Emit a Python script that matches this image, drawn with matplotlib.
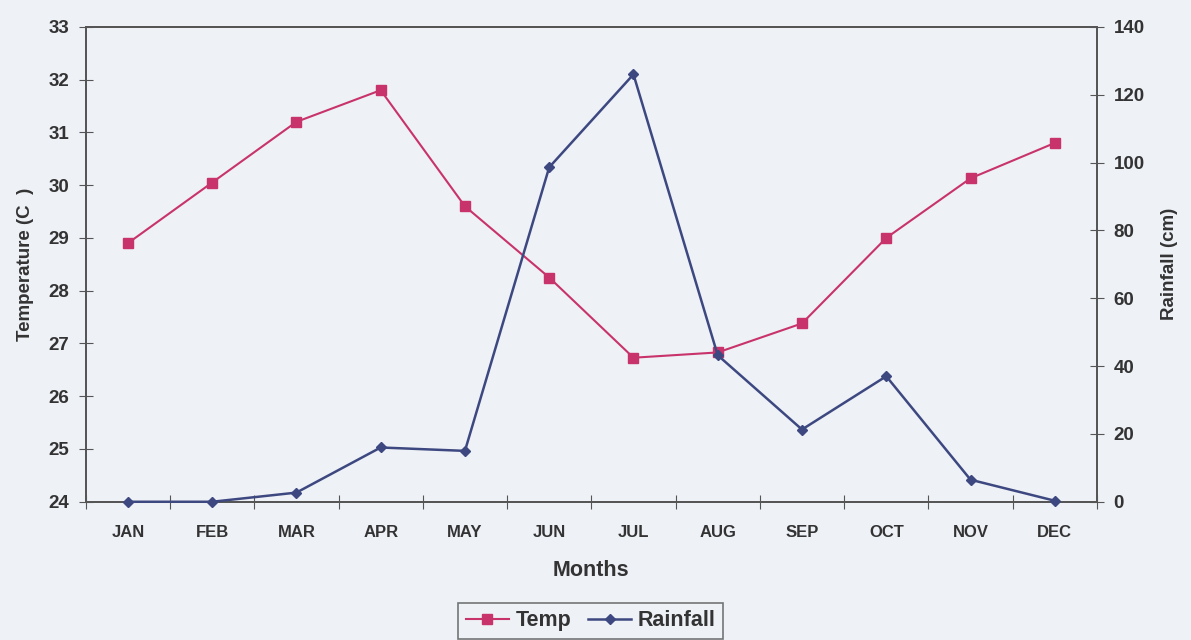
import numpy as np
import matplotlib.pyplot as plt

# Monthly mean temperature and rainfall
months = ['JAN', 'FEB', 'MAR', 'APR', 'MAY', 'JUN',
          'JUL', 'AUG', 'SEP', 'OCT', 'NOV', 'DEC']
temp = [28.9, 30.05, 31.2, 31.8, 29.6, 28.25,
        26.73, 26.83, 27.38, 29.0, 30.13, 30.8]
rainfall = [0, 0, 2.7, 16, 15, 98.6,
            126, 43.2, 21.3, 37, 6.5, 0.3]

bg = '#eef1f6'
ink = '#333333'
temp_col = '#c8336b'
rain_col = '#3d4880'

plt.rcParams['font.family'] = ['Liberation Sans', 'DejaVu Sans']
plt.rcParams['font.weight'] = 'bold'

fig = plt.figure(figsize=(11.91, 6.4), dpi=100, facecolor=bg)
ax = fig.add_axes([0.072, 0.216, 0.849, 0.742], facecolor=bg)
ax2 = ax.twinx()

x = np.arange(len(months))

l1, = ax.plot(x, temp, color=temp_col, lw=1.5, marker='s', ms=7,
              label='Temp', zorder=3, clip_on=False)
l2, = ax2.plot(x, rainfall, color=rain_col, lw=1.8, marker='D', ms=5.5,
               label='Rainfall', zorder=3, clip_on=False)

ax.set_xlim(-0.5, len(months) - 0.5)
ax.set_ylim(24, 33)
ax.set_yticks(np.arange(24, 34, 1))
ax2.set_ylim(0, 140)
ax2.set_yticks(np.arange(0, 141, 20))

# category ticks sit between months, labels centred on each month
ax.set_xticks(np.arange(-0.5, len(months), 1), minor=False)
ax.set_xticklabels([])
ax.set_xticks(x, minor=True)
ax.set_xticklabels(months, minor=True, fontsize=12, fontweight='bold', color=ink)
ax.tick_params(axis='x', which='major', direction='inout', length=10, color='#555555')
ax.tick_params(axis='x', which='minor', length=0, pad=17)

ax.tick_params(axis='y', direction='inout', length=10, color='#555555',
               labelsize=13.5, labelcolor=ink, pad=7)
ax2.tick_params(axis='y', direction='inout', length=10, color='#555555',
                labelsize=13.5, labelcolor=ink, pad=7)
for t in ax.get_yticklabels() + ax2.get_yticklabels():
    t.set_fontweight('bold')

for a in (ax, ax2):
    for s in a.spines.values():
        s.set_color('#555555')
        s.set_linewidth(1.3)

ax.set_xlabel('Months', fontsize=15.5, fontweight='bold', color=ink, labelpad=14)
ax.set_ylabel('Temperature (C  )', fontsize=13.5, fontweight='bold', color=ink, labelpad=10)
ax2.set_ylabel('Rainfall (cm)', fontsize=13.5, fontweight='bold', color=ink, labelpad=12)

leg = fig.legend(handles=[l1, l2], loc='center', bbox_to_anchor=(0.496, 0.03),
                 ncol=2, frameon=True, fancybox=False, handlelength=2.0,
                 handletextpad=0.3, columnspacing=0.8, borderpad=0.35,
                 prop={'size': 15.5, 'weight': 'bold'})
leg.get_frame().set_edgecolor('#555555')
leg.get_frame().set_facecolor(bg)
leg.get_frame().set_linewidth(1.2)
for t in leg.get_texts():
    t.set_color(ink)

fig.savefig('out.png', dpi=100, facecolor=bg)
